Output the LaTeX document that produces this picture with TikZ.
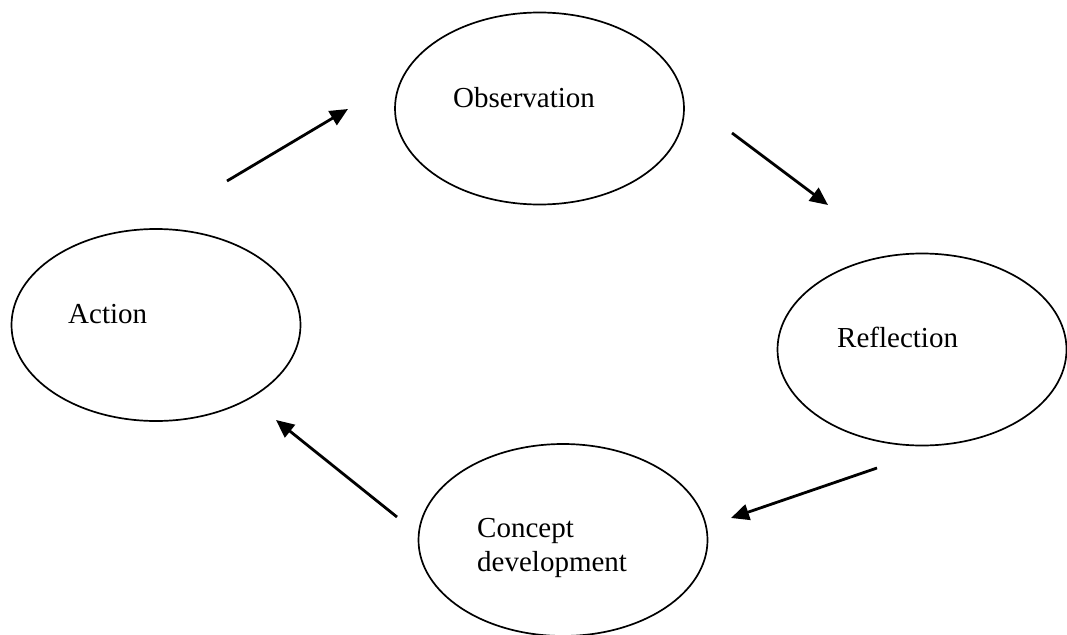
\documentclass[tikz,border=0pt]{standalone}
\usepackage{fontspec}
\setmainfont{Liberation Serif}
\usetikzlibrary{shapes.geometric,arrows.meta}
\begin{document}
\begin{tikzpicture}[x=1pt,y=-1pt,
  stage/.style={draw,ellipse,line width=1.7pt,minimum width=289pt,minimum height=192pt,inner sep=0pt},
  caption/.style={anchor=base west,inner sep=0pt,font=\fontsize{29}{34}\selectfont},
  flow/.style={line width=2.8pt,-{Triangle[length=18pt,width=16pt]}}]
\useasboundingbox (0,0) rectangle (1067,634);
% the four stages of the cycle
\node[stage] (obs) at (539.5,108.5) {};
\node[stage] (act) at (156,325) {};
\node[stage] (ref) at (922,349.5) {};
\node[stage] (con) at (563,540) {};
% stage names
\node[caption] (tobs) at (453,107) {Observation};
\node[caption] (tact) at (68,323) {Action};
\node[caption] (tref) at (837,347) {Reflection};
\node[caption] (tcon1) at (477,537) {Concept};
\node[caption] (tcon2) at (477,571) {development};
% arrow ends between the stages
\coordinate (a1) at (227,181);
\coordinate (b1) at (348,109);
\coordinate (a2) at (732,133);
\coordinate (b2) at (828,205);
\coordinate (a3) at (877,468);
\coordinate (b3) at (731,518);
\coordinate (a4) at (397,517);
\coordinate (b4) at (276,420);
\draw[flow] (a1) -- (b1);
\draw[flow] (a2) -- (b2);
\draw[flow] (a3) -- (b3);
\draw[flow] (a4) -- (b4);
\end{tikzpicture}
\end{document}
